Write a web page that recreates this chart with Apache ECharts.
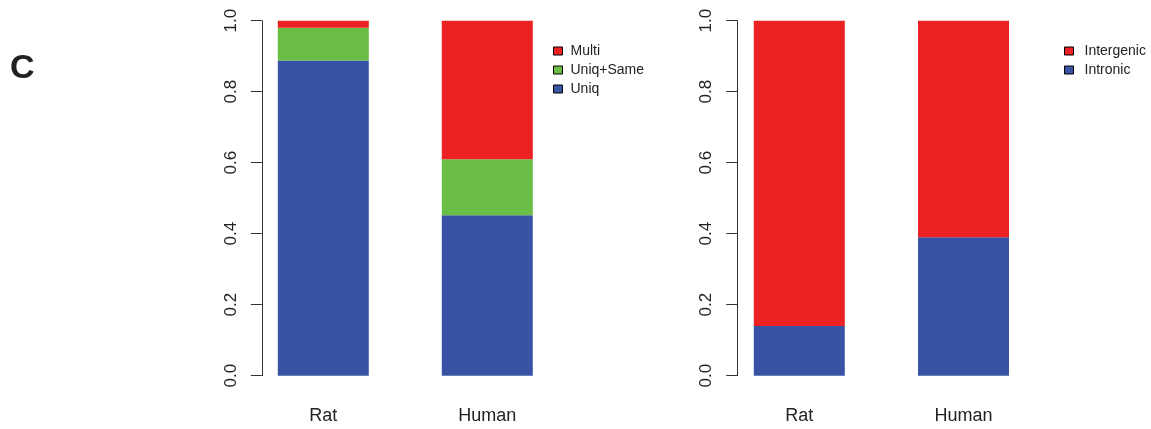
<!DOCTYPE html>
<html>
<head>
<meta charset="utf-8">
<script src="https://cdn.jsdelivr.net/npm/echarts@6/dist/echarts.min.js"></script>
<style>
html,body{margin:0;padding:0;background:#fff;}
#chart{width:1151px;height:429px;}
</style>
</head>
<body>
<div id="chart"></div>
<script>
var categories = ['Rat', 'Human'];
// Left panel
var uniq = [0.888, 0.452];
var uniqSame = [0.092, 0.158];
var multi = [0.020, 0.390];
// Right panel
var intronic = [0.140, 0.390];
var intergenic = [0.860, 0.610];
var yTicks = [0, 0.2, 0.4, 0.6, 0.8, 1.0];

var RED = '#ED2024', GREEN = '#6ABD45', BLUE = '#3953A4';
var FONT = 'Liberation Sans';

var chart = echarts.init(document.getElementById('chart'));

function yAxis(gi, off) {
  return {
    type: 'value', gridIndex: gi, min: yTicks[0], max: yTicks[yTicks.length - 1], interval: 0.2,
    offset: off,
    splitLine: { show: false },
    axisLine: { show: true, lineStyle: { color: '#333', width: 1 } },
    axisTick: { show: true, length: 11, lineStyle: { color: '#333', width: 1 } },
    axisLabel: { rotate: 90, margin: 22, fontSize: 17, fontFamily: FONT, color: '#222',
      formatter: function (v) { return v.toFixed(1); } }
  };
}
function xAxis(gi) {
  return {
    type: 'category', gridIndex: gi, data: categories,
    axisLine: { show: false }, axisTick: { show: false },
    axisLabel: { margin: 31, fontSize: 18, fontFamily: FONT, color: '#222' }
  };
}
function bar(name, data, color, gi, stack) {
  return {
    name: name, type: 'bar', data: data, stack: stack,
    xAxisIndex: gi, yAxisIndex: gi, barWidth: 91,
    itemStyle: { color: color }, emphasis: { disabled: true }, animation: false
  };
}

chart.setOption({
  animation: false,
  title: { text: 'C', left: 5, top: 47, textStyle: { fontSize: 34, fontWeight: 'bold', fontFamily: FONT, color: '#222' } },
  grid: [
    { left: 241.3, width: 328, top: 20.7, height: 355 },
    { left: 717.2, width: 328.4, top: 20.7, height: 355 }
  ],
  xAxis: [xAxis(0), xAxis(1)],
  yAxis: [yAxis(0, -20.5), yAxis(1, -20)],
  legend: [
    { orient: 'vertical', left: 548, top: 39, itemWidth: 9, itemHeight: 8, itemGap: 5, icon: 'rect',
      data: ['Multi', 'Uniq+Same', 'Uniq'],
      itemStyle: { borderColor: '#000', borderWidth: 1 },
      textStyle: { fontSize: 14, fontFamily: FONT, color: '#222', padding: [0, 0, 0, 3] } },
    { orient: 'vertical', left: 1059, top: 39, itemWidth: 9, itemHeight: 8, itemGap: 5, icon: 'rect',
      data: ['Intergenic', 'Intronic'],
      itemStyle: { borderColor: '#000', borderWidth: 1 },
      textStyle: { fontSize: 14, fontFamily: FONT, color: '#222', padding: [0, 0, 0, 6] } }
  ],
  series: [
    bar('Uniq', uniq, BLUE, 0, 'a'),
    bar('Uniq+Same', uniqSame, GREEN, 0, 'a'),
    bar('Multi', multi, RED, 0, 'a'),
    bar('Intronic', intronic, BLUE, 1, 'b'),
    bar('Intergenic', intergenic, RED, 1, 'b')
  ]
});
</script>
</body>
</html>
